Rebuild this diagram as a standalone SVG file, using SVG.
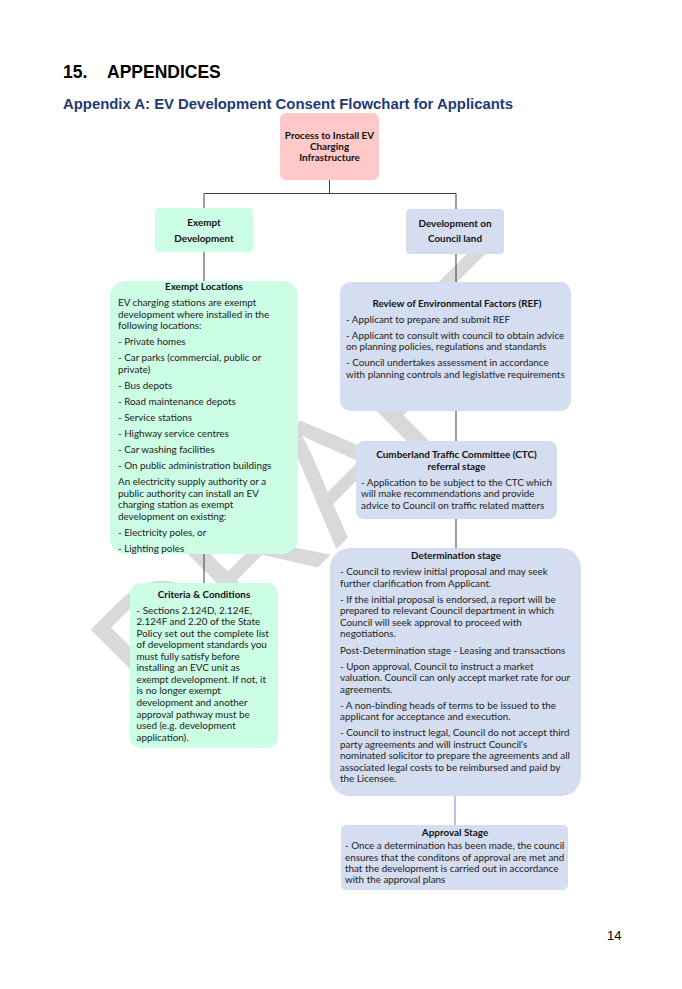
<svg xmlns="http://www.w3.org/2000/svg" width="682" height="989" viewBox="0 0 682 989">
<style>
.h1{font-family:"Liberation Sans",Arial,sans-serif;font-weight:bold;font-size:17.5px;fill:#000}
.h2{font-family:"Liberation Sans",Arial,sans-serif;font-weight:bold;font-size:14px;fill:#1f3a73}
.pg{font-family:"Liberation Sans",Arial,sans-serif;font-size:13px;fill:#000}
.t{font-family:Lato,"Open Sans",sans-serif;font-size:9.85px;fill:#222}
.b{font-family:Lato,"Open Sans",sans-serif;font-size:9.9px;font-weight:bold;fill:#111;text-anchor:middle}
.pink{fill:#ffc9c9}
.mint{fill:#ccfde5}
.blue{fill:#d5def0}
.wm{font-family:"Liberation Sans",Arial,sans-serif;font-size:169px;fill:#d9d9d9}
.c line{stroke:#3f3f3f;stroke-width:1}
</style>
<rect width="682" height="989" fill="#fff"/>
<text class="h1" x="63" y="78">15.</text>
<text class="h1" x="107" y="78">APPENDICES</text>
<text class="h2" x="63" y="109" textLength="450" lengthAdjust="spacingAndGlyphs">Appendix A: EV Development Consent Flowchart for Applicants</text>
<text class="wm" transform="translate(87,627) rotate(-45)" x="-13" y="121">DRAFT</text>
<g class="c" id="connectors">
<line x1="329.5" y1="180" x2="329.5" y2="193.5"/>
<line x1="204" y1="193.5" x2="456" y2="193.5"/>
<line x1="204" y1="193.5" x2="204" y2="208"/>
<line x1="456" y1="193.5" x2="456" y2="209"/>
<line x1="204" y1="252" x2="204" y2="281"/>
<line x1="456" y1="254" x2="456" y2="282"/>
<line x1="456" y1="411" x2="456" y2="441"/>
<line x1="456" y1="519" x2="456" y2="548"/>
<line x1="204" y1="554" x2="204" y2="583"/>
<line x1="455" y1="796" x2="455" y2="825" style="stroke:#6f8fc9"/>
</g>
<g id="process">
<rect class="pink" x="280" y="113" width="99" height="67" rx="6"/>
<text class="b" x="329.5" y="139">Process to Install EV</text>
<text class="b" x="329.5" y="150">Charging</text>
<text class="b" x="329.5" y="161">Infrastructure</text>
</g>
<g id="exempt-development">
<rect class="mint" x="155" y="208" width="98" height="44" rx="4"/>
<text class="b" x="204" y="225.5">Exempt</text>
<text class="b" x="204" y="241.5">Development</text>
</g>
<g id="council-land">
<rect class="blue" x="406" y="209" width="98" height="45" rx="4"/>
<text class="b" x="455" y="226.5">Development on</text>
<text class="b" x="455" y="242">Council land</text>
</g>
<g id="exempt-locations">
<rect class="mint" x="110" y="281" width="188" height="273" rx="16"/>
<text class="b" x="204" y="290">Exempt Locations</text>
<text class="t" x="118" y="306">EV charging stations are exempt</text>
<text class="t" x="118" y="317.5">development where installed in the</text>
<text class="t" x="118" y="329">following locations:</text>
<text class="t" x="118" y="345">- Private homes</text>
<text class="t" x="118" y="361">- Car parks (commercial, public or</text>
<text class="t" x="118" y="372.5">private)</text>
<text class="t" x="118" y="388.5">- Bus depots</text>
<text class="t" x="118" y="404.5">- Road maintenance depots</text>
<text class="t" x="118" y="420.5">- Service stations</text>
<text class="t" x="118" y="436.5">- Highway service centres</text>
<text class="t" x="118" y="452.5">- Car washing facilities</text>
<text class="t" x="118" y="469">- On public administration buildings</text>
<text class="t" x="118" y="485">An electricity supply authority or a</text>
<text class="t" x="118" y="496.5">public authority can install an EV</text>
<text class="t" x="118" y="508">charging station as exempt</text>
<text class="t" x="118" y="519.5">development on existing:</text>
<text class="t" x="118" y="535.5">- Electricity poles, or</text>
<text class="t" x="118" y="551.5">- Lighting poles</text>
</g>
<g id="criteria">
<rect class="mint" x="130" y="583" width="148" height="165" rx="10"/>
<text class="b" x="204" y="597.5">Criteria &amp; Conditions</text>
<text class="t" x="136.5" y="613.5">- Sections 2.124D, 2.124E,</text>
<text class="t" x="136.5" y="625">2.124F and 2.20 of the State</text>
<text class="t" x="136.5" y="636.5">Policy set out the complete list</text>
<text class="t" x="136.5" y="648">of development standards you</text>
<text class="t" x="136.5" y="659.5">must fully satisfy before</text>
<text class="t" x="136.5" y="671">installing an EVC unit as</text>
<text class="t" x="136.5" y="682.5">exempt development. If not, it</text>
<text class="t" x="136.5" y="694">is no longer exempt</text>
<text class="t" x="136.5" y="705.5">development and another</text>
<text class="t" x="136.5" y="717.5">approval pathway must be</text>
<text class="t" x="136.5" y="729">used (e.g. development</text>
<text class="t" x="136.5" y="740.5">application).</text>
</g>
<g id="ref">
<rect class="blue" x="340" y="282" width="231" height="129" rx="11"/>
<text class="b" x="457" y="306.5">Review of Environmental Factors (REF)</text>
<text class="t" x="346" y="322.5">- Applicant to prepare and submit REF</text>
<text class="t" x="346" y="338.5">- Applicant to consult with council to obtain advice</text>
<text class="t" x="346" y="350">on planning policies, regulations and standards</text>
<text class="t" x="346" y="366">- Council undertakes assessment in accordance</text>
<text class="t" x="346" y="377.5">with planning controls and legislative requirements</text>
</g>
<g id="ctc">
<rect class="blue" x="356" y="441" width="201" height="78" rx="8"/>
<text class="b" x="456.5" y="457.5">Cumberland Traffic Committee (CTC)</text>
<text class="b" x="456.5" y="469.5">referral stage</text>
<text class="t" x="361" y="485.5">- Application to be subject to the CTC which</text>
<text class="t" x="361" y="497">will make recommendations and provide</text>
<text class="t" x="361" y="508.5">advice to Council on traffic related matters</text>
</g>
<g id="determination">
<rect class="blue" x="330" y="548" width="251" height="248" rx="20"/>
<text class="b" x="456" y="559">Determination stage</text>
<text class="t" x="340" y="575">- Council to review initial proposal and may seek</text>
<text class="t" x="340" y="586.5">further clarification from Applicant.</text>
<text class="t" x="340" y="602.5">- If the initial proposal is endorsed, a report will be</text>
<text class="t" x="340" y="614">prepared to relevant Council department in which</text>
<text class="t" x="340" y="625.5">Council will seek approval to proceed with</text>
<text class="t" x="340" y="637">negotiations.</text>
<text class="t" x="340" y="653.5">Post-Determination stage - Leasing and transactions</text>
<text class="t" x="340" y="669.5">- Upon approval, Council to instruct a market</text>
<text class="t" x="340" y="681">valuation. Council can only accept market rate for our</text>
<text class="t" x="340" y="692.5">agreements.</text>
<text class="t" x="340" y="708.5">- A non-binding heads of terms to be issued to the</text>
<text class="t" x="340" y="720">applicant for acceptance and execution.</text>
<text class="t" x="340" y="736">- Council to instruct legal, Council do not accept third</text>
<text class="t" x="340" y="747.5">party agreements and will instruct Council's</text>
<text class="t" x="340" y="759">nominated solicitor to prepare the agreements and all</text>
<text class="t" x="340" y="770.5">associated legal costs to be reimbursed and paid by</text>
<text class="t" x="340" y="782">the Licensee.</text>
</g>
<g id="approval">
<rect class="blue" x="341" y="825" width="227" height="65" rx="5"/>
<text class="b" x="455" y="836">Approval Stage</text>
<text class="t" x="345" y="849">- Once a determination has been made, the council</text>
<text class="t" x="345" y="860.5">ensures that the conditons of approval are met and</text>
<text class="t" x="345" y="872">that the development is carried out in accordance</text>
<text class="t" x="345" y="883">with the approval plans</text>
</g>
<text class="pg" x="607" y="940">14</text>
</svg>
